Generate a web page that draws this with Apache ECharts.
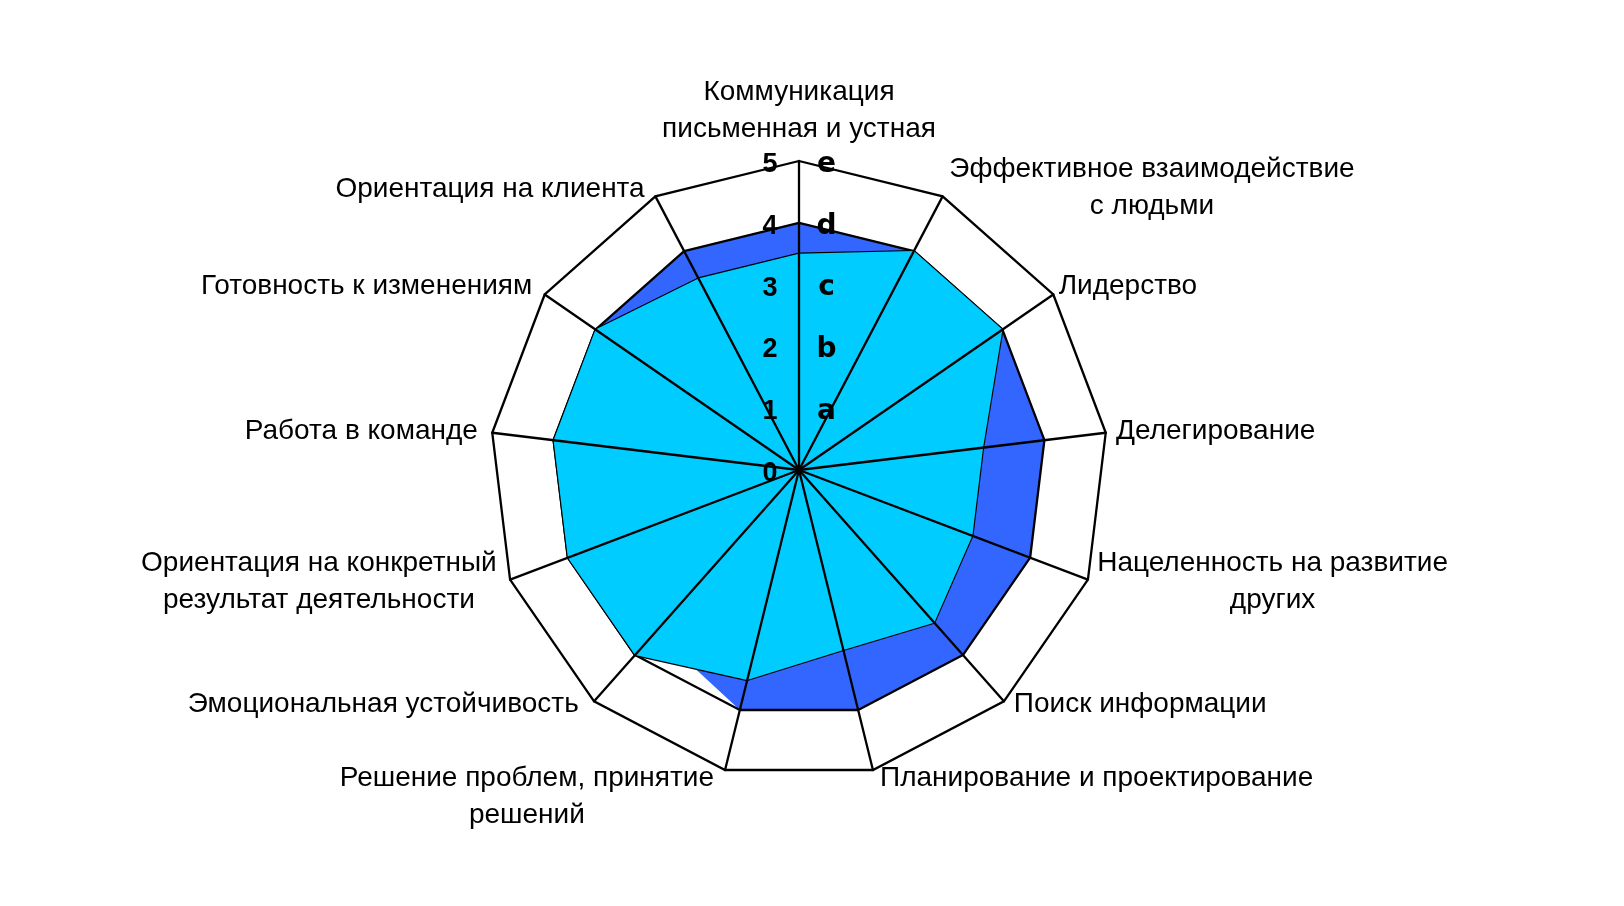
<!DOCTYPE html>
<html><head><meta charset="utf-8">
<script src="https://cdn.jsdelivr.net/npm/echarts@6/dist/echarts.min.js"></script>
<style>html,body{margin:0;padding:0;background:#fff;}#c{width:1624px;height:906px;}</style>
</head><body><div id="c"></div>
<script>
// Categories in clockwise order starting from the top axis
const categories = [
  'Коммуникация\nписьменная и устная',
  'Эффективное взаимодействие\nс людьми',
  'Лидерство',
  'Делегирование',
  'Нацеленность на развитие\nдругих',
  'Поиск информации',
  'Планирование и проектирование',
  'Решение проблем, принятие\nрешений',
  'Эмоциональная устойчивость',
  'Ориентация на конкретный\nрезультат деятельности',
  'Работа в команде',
  'Готовность к изменениям',
  'Ориентация на клиента'
];
// Required level (dark blue) – outline values
const requiredLevel = [4, 4, 4, 4, 4, 4, 4, 4, 4, 4, 4, 4, 4];
// Required level – filled area as it appears in the picture
const requiredFill = [4, 4, 4, 4, 4, 4, 4, 4, 3.5, 4, 4, 4, 4];
// Actual level (cyan)
const actualLevel = [3.5, 4, 4, 3, 3, 3.3, 3, 3.5, 4, 4, 4, 4, 3.5];
// Tick labels
const numberTicks = ['0', '1', '2', '3', '4', '5'];
const letterTicks = ['', 'a', 'b', 'c', 'd', 'e'];
const maxValue = 5;

// Layout only: small nudges of the category labels [dx, dy] in px
const nameNudge = [
  [0, 0], [3, -4], [0, -5], [4, -1], [3.5, 0], [5.5, -1], [4.5, 3],
  [-8.5, 22], [-10.5, -1], [-7.5, 0], [-8, -1], [-7, -5], [-7, -3]
];

// ECharts lays radar indicators counter-clockwise; reorder to get clockwise
const reorder = arr => [arr[0]].concat(arr.slice(1).reverse());
const order = reorder(categories.map((_, i) => i));

const nameSize = 28;
const nameFamily = 'Liberation Sans';
const ctx = document.createElement('canvas').getContext('2d');
ctx.font = nameSize + 'px "' + nameFamily + '"';
const rich = {};
categories.forEach((c, i) => {
  const w = Math.max.apply(null, c.split('\n').map(s => ctx.measureText(s).width));
  rich['t' + i] = { width: Math.ceil(w) + 2, align: 'center', fontSize: nameSize, fontFamily: nameFamily, lineHeight: 37, color: '#000' };
  const n = nameNudge[i];
  rich['h' + i] = { width: Math.abs(n[0]), fontSize: 1, lineHeight: 37 };
  const vh = Math.abs(n[1]) * 2;
  rich['v' + i] = { fontSize: 1, lineHeight: Math.max(vh, 1), height: Math.max(vh, 1) };
});

function nameFormatter(name) {
  const i = categories.indexOf(name);
  const n = nameNudge[i];
  const lines = name.split('\n').map(l => {
    const t = '{t' + i + '|' + l + '}';
    if (i === 0 || n[0] === 0) return t;
    const h = '{h' + i + '| }';
    return (i <= 6) ? h + t : t + h;
  });
  let s = lines.join('\n');
  if (n[1] > 0) s = '{v' + i + '| }\n' + s;
  else if (n[1] < 0) s = s + '\n{v' + i + '| }';
  return s;
}

const tickRich = {
  n: { width: 30, align: 'right', fontFamily: 'Liberation Sans', fontWeight: 'bold', fontSize: 27, color: '#000', lineHeight: 26, padding: [7, 0, 0, 0], verticalAlign: 'middle' },
  g: { width: 25 },
  l: { width: 33, align: 'left', fontFamily: 'DejaVu Sans', fontWeight: 'bold', fontSize: 28, color: '#000', lineHeight: 26, padding: [7, 0, 0, 0], verticalAlign: 'middle' }
};

const chart = echarts.init(document.getElementById('c'), null, { renderer: 'canvas' });
chart.setOption({
  animation: false,
  backgroundColor: '#fff',
  radar: {
    center: [799, 470],
    radius: 309,
    startAngle: 90,
    shape: 'polygon',
    splitNumber: 5,
    z: 5,
    nameGap: 5,
    indicator: order.map(i => {
      const ind = { name: categories[i], min: 0, max: maxValue };
      if (i === 0) {
        ind.axisLabel = {
          show: true, margin: 0, align: 'center', verticalAlign: 'middle', rotate: 0,
          showMinLabel: true, showMaxLabel: true,
          formatter: v => {
            const k = Math.round(v);
            return '{n|' + numberTicks[k] + '}{g| }{l|' + (letterTicks[k] || ' ') + '}';
          },
          rich: tickRich
        };
      }
      return ind;
    }),
    axisName: {
      color: '#000',
      fontSize: nameSize,
      fontFamily: nameFamily,
      formatter: nameFormatter,
      rich: rich
    },
    axisLine: { show: true, lineStyle: { color: '#000', width: 2.3 } },
    axisTick: { show: false },
    axisLabel: { show: false },
    splitLine: { show: true, lineStyle: { color: ['rgba(0,0,0,0)', 'rgba(0,0,0,0)', 'rgba(0,0,0,0)', 'rgba(0,0,0,0)', 'rgba(0,0,0,0)', '#000'], width: 2.3 } },
    splitArea: { show: false }
  },
  series: [
    { type: 'radar', z: 2, symbol: 'none', silent: true,
      data: [{ value: reorder(requiredFill), lineStyle: { width: 0, opacity: 0 }, areaStyle: { color: '#3366FF', opacity: 1 } }] },
    { type: 'radar', z: 2, symbol: 'none', silent: true,
      data: [{ value: reorder(requiredLevel), lineStyle: { color: '#000', width: 2.3 } }] },
    { type: 'radar', z: 2, symbol: 'none', silent: true,
      data: [{ value: reorder(actualLevel), lineStyle: { color: '#000', width: 2.3 }, areaStyle: { color: '#00CCFF', opacity: 1 } }] }
  ]
});
</script>
</body></html>
